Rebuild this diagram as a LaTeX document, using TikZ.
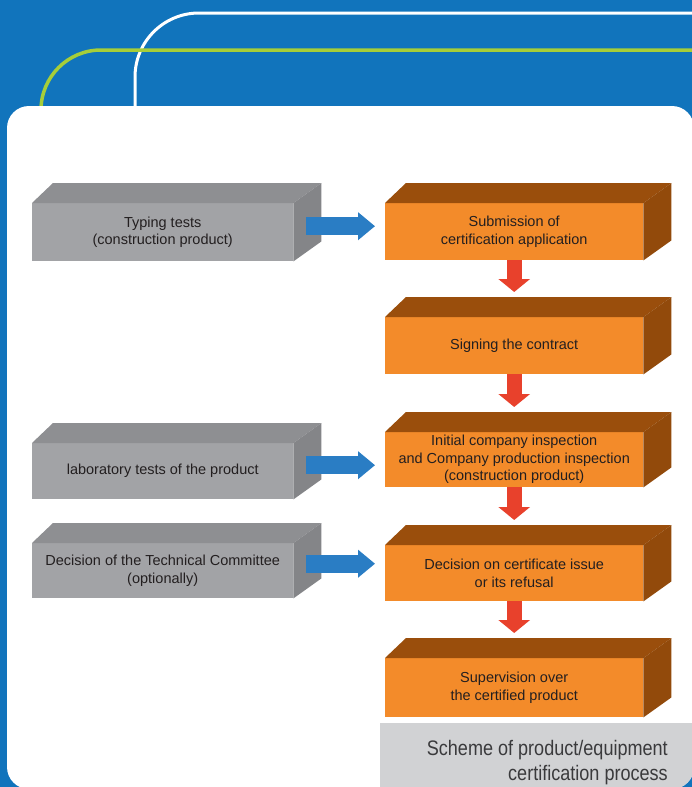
\documentclass[tikz,border=0pt]{standalone}
\usepackage{fontspec}
\setmainfont{Liberation Sans}
\usetikzlibrary{calc,arrows.meta}
\definecolor{bgblue}{HTML}{1174BC}
\definecolor{lgreen}{HTML}{A6CE39}
\definecolor{ofrontc}{HTML}{F38B2A}
\definecolor{otopc}{HTML}{9A4E0C}
\definecolor{osidec}{HTML}{924A0B}
\definecolor{gfrontc}{HTML}{A2A3A6}
\definecolor{gtopc}{HTML}{8E8F92}
\definecolor{gsidec}{HTML}{848588}
\definecolor{arrblue}{HTML}{2A7DC4}
\definecolor{arrred}{HTML}{E8412C}
\definecolor{capgray}{HTML}{D1D2D4}
\definecolor{txt}{HTML}{231F20}
\definecolor{captxt}{HTML}{3A3A3C}
\newcommand\cuboidfaces[3]{%
  \fill[#2] (#1.north west) -- ++(21,-20) -- ($(#1.north east)+(28,-20)$) -- (#1.north east) -- cycle;
  \fill[#3] (#1.north east) -- ++(28,-20) -- ($(#1.south east)+(28,-20)$) -- (#1.south east) -- cycle;}
\tikzset{
  boxtext/.style={draw=none, inner sep=0pt, anchor=north west, align=center,
    font=\fontsize{14.5}{17.5}\selectfont, text=txt},
  obox/.style={boxtext, fill=ofrontc, minimum width=258pt},
  gbox/.style={boxtext, fill=gfrontc, minimum width=261pt},
  bluearr/.style={draw=arrblue, line width=18pt, -{Triangle[length=17pt,width=27pt]}},
  redarr/.style={draw=arrred, line width=15pt, -{Triangle[length=13pt,width=31pt]}, shorten >=25pt},
  captext/.style={anchor=base east, inner sep=0pt, text=captxt,
    font=\addfontfeature{FakeStretch=0.86}\fontsize{21}{25}\selectfont}
}
\begin{document}
\begin{tikzpicture}[x=1pt,y=-1pt]
\useasboundingbox (0,0) rectangle (692,787);
\clip (0,0) rectangle (692,787);
% background
\fill[bgblue] (0,0) rectangle (692,787);
\draw[white, line width=3pt, rounded corners=64pt] (135,130) -- (135,13) -- (720,13);
\draw[lgreen, line width=3.5pt, rounded corners=60pt] (41,130) -- (41,50) -- (720,50);
\fill[white, rounded corners=22pt] (7,106) rectangle (694,789);
\begin{scope}
  \clip[rounded corners=22pt] (7,106) rectangle (694,789);
  \fill[capgray] (380,723) rectangle (700,800);
\end{scope}
\node[captext] (cap1) at (668,755) {Scheme of product/equipment};
\node[captext] (cap2) at (668,780) {certification process};
% orange boxes
\node[obox, minimum height=57pt] (o1) at (385,203) {Submission of\\certification application};
\node[obox, minimum height=57pt] (o2) at (385,317) {Signing the contract};
\node[obox, minimum height=55pt] (o3) at (385,432) {Initial company inspection\\and Company production inspection\\(construction product)};
\node[obox, minimum height=56pt] (o4) at (385,545) {Decision on certificate issue\\or its refusal};
\node[obox, minimum height=59pt] (o5) at (385,658) {Supervision over\\the certified product};
\foreach \n in {o1,o2,o3,o4,o5} {\cuboidfaces{\n}{otopc}{osidec}}
% gray boxes
\node[gbox, minimum height=58pt] (g1) at (32,203) {Typing tests\\(construction product)};
\node[gbox, minimum height=56pt] (g2) at (32,443) {laboratory tests of the product};
\node[gbox, minimum height=55pt] (g3) at (32,543) {Decision of the Technical Committee\\(optionally)};
\foreach \n in {g1,g2,g3} {\cuboidfaces{\n}{gtopc}{gsidec}}
% blue arrows
\draw[bluearr] ($(g1.east)+(13,-6)$) -- ($(g1.east -| o1.west)+(-10,-6)$);
\draw[bluearr] ($(g2.east)+(13,-6)$) -- ($(g2.east -| o3.west)+(-10,-6)$);
\draw[bluearr] ($(g3.east)+(13,-7)$) -- ($(g3.east -| o4.west)+(-10,-7)$);
% red arrows
\draw[redarr] (o1.south) -- (o2.north);
\draw[redarr] (o2.south) -- (o3.north);
\draw[redarr] (o3.south) -- (o4.north);
\draw[redarr] (o4.south) -- (o5.north);
\end{tikzpicture}
\end{document}
